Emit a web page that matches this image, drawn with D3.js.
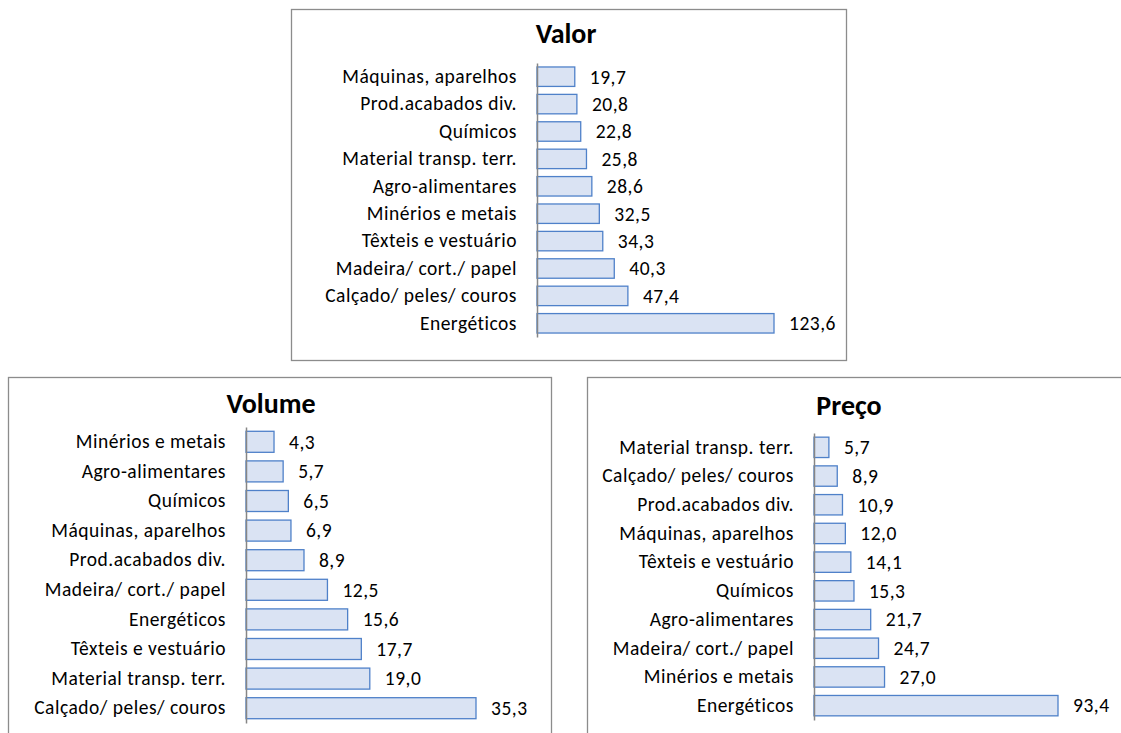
<!DOCTYPE html>
<html>
<head>
<meta charset="utf-8">
<script src="https://cdn.jsdelivr.net/npm/d3@7"></script>
<style>
  html, body { margin: 0; padding: 0; background: #fff; }
  svg { display: block; }
  text { font-family: Carlito, Calibri, Lato, sans-serif; fill: #000; }
</style>
</head>
<body>
<div id="chart"></div>
<script>
// Valor
const valorCats = ['Máquinas, aparelhos', 'Prod.acabados div.', 'Químicos', 'Material transp. terr.', 'Agro-alimentares',
    'Minérios e metais', 'Têxteis e vestuário', 'Madeira/ cort./ papel', 'Calçado/ peles/ couros', 'Energéticos'];
const valorVals = [19.7, 20.8, 22.8, 25.8, 28.6, 32.5, 34.3, 40.3, 47.4, 123.6];

// Volume
const volumeCats = ['Minérios e metais', 'Agro-alimentares', 'Químicos', 'Máquinas, aparelhos', 'Prod.acabados div.',
    'Madeira/ cort./ papel', 'Energéticos', 'Têxteis e vestuário', 'Material transp. terr.', 'Calçado/ peles/ couros'];
const volumeVals = [4.3, 5.7, 6.5, 6.9, 8.9, 12.5, 15.6, 17.7, 19.0, 35.3];

// Preço
const precoCats = ['Material transp. terr.', 'Calçado/ peles/ couros', 'Prod.acabados div.', 'Máquinas, aparelhos',
    'Têxteis e vestuário', 'Químicos', 'Agro-alimentares', 'Madeira/ cort./ papel', 'Minérios e metais', 'Energéticos'];
const precoVals = [5.7, 8.9, 10.9, 12.0, 14.1, 15.3, 21.7, 24.7, 27.0, 93.4];

const width = 1121, height = 733;

// panel layout (frame box, axis position, plot extent)
const panels = [
    { title: 'Valor', cats: valorCats, vals: valorVals,
      frame: [291, 9, 846, 360], titleX: 566, titleY: 43,
      axisX: 537, top: 63, bottom: 337, barMax: 237 },
    { title: 'Volume', cats: volumeCats, vals: volumeVals,
      frame: [8, 377, 551, 745], titleX: 271, titleY: 413,
      axisX: 246, top: 427, bottom: 723, barMax: 230 },
    { title: 'Preço', cats: precoCats, vals: precoVals,
      frame: [587, 377, 1135, 745], titleX: 849, titleY: 415,
      axisX: 814, top: 433, bottom: 720, barMax: 244 }
];

const ptFormat = d3.formatLocale({ decimal: ',', thousands: '.', grouping: [3], currency: ['', ' €'] }).format('.1f');

const labelSize = '19.5px';
const labelSpacing = '0.5px';

const svg = d3.select('#chart')
    .append('svg')
    .attr('width', width)
    .attr('height', height);

panels.forEach(function(p) {
    const g = svg.append('g');

    // chart frame
    g.append('rect')
        .attr('x', p.frame[0] + 0.5)
        .attr('y', p.frame[1] + 0.5)
        .attr('width', p.frame[2] - p.frame[0])
        .attr('height', p.frame[3] - p.frame[1])
        .attr('fill', '#fff')
        .attr('stroke', '#8c8c8c')
        .attr('stroke-width', 1.3);

    g.append('text')
        .attr('x', p.titleX)
        .attr('y', p.titleY)
        .attr('text-anchor', 'middle')
        .attr('font-size', '28px')
        .attr('font-weight', 'bold')
        .text(p.title);

    const x = d3.scaleLinear()
        .domain([0, d3.max(p.vals)])
        .range([p.axisX, p.axisX + p.barMax]);

    const y = d3.scaleBand()
        .domain(p.cats)
        .range([p.top, p.bottom])
        .paddingInner(0.29)
        .paddingOuter(0.145);

    const rows = p.cats.map((c, i) => ({ cat: c, val: p.vals[i] }));

    g.selectAll('.bar')
        .data(rows)
        .enter()
        .append('rect')
        .attr('class', 'bar')
        .attr('x', x(0))
        .attr('y', d => y(d.cat))
        .attr('width', d => x(d.val) - x(0))
        .attr('height', y.bandwidth())
        .attr('fill', '#dae3f3')
        .attr('stroke', '#4f81c9')
        .attr('stroke-width', 1.3);

    // category axis, no ticks
    const axis = g.append('g')
        .attr('transform', `translate(${p.axisX},0)`)
        .call(d3.axisLeft(y).tickSize(0).tickPadding(20));
    axis.select('.domain')
        .attr('stroke', '#868686')
        .attr('stroke-width', 1.5);
    axis.selectAll('text')
        .attr('font-family', 'Carlito, Calibri, Lato, sans-serif')
        .attr('font-size', labelSize)
        .attr('letter-spacing', labelSpacing)
        .attr('fill', '#000');

    g.selectAll('.value')
        .data(rows)
        .enter()
        .append('text')
        .attr('class', 'value')
        .attr('x', d => x(d.val) + 15)
        .attr('y', d => y(d.cat) + y.bandwidth() / 2)
        .attr('dy', '0.35em')
        .attr('font-size', labelSize)
        .attr('letter-spacing', labelSpacing)
        .text(d => ptFormat(d.val));
});
</script>
</body>
</html>
